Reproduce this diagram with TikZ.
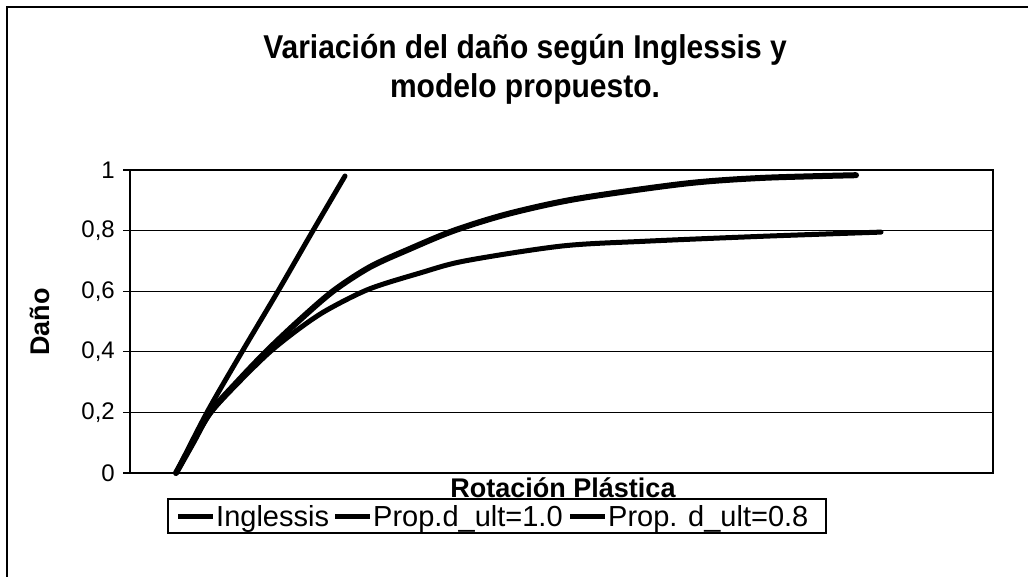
\documentclass[tikz,border=0pt]{standalone}
\usepackage{fontspec}
\setmainfont{Liberation Sans}
\begin{document}
\begin{tikzpicture}[x=1pt,y=-1pt,
  frameline/.style={line width=1.5pt},
  gridline/.style={line width=1.3pt},
  axisframe/.style={line width=2pt},
  curveA/.style={line width=5pt, line cap=round, line join=round},
  curveB/.style={line width=6pt, line cap=round, line join=round},
  curveC/.style={line width=5pt, line cap=round, line join=round},
  ticklbl/.style={anchor=east, inner sep=0pt, font=\fontsize{24}{24}\selectfont},
  titletxt/.style={anchor=base, inner sep=0pt, font=\bfseries\fontsize{30}{30}\selectfont},
  axtitle/.style={inner sep=0pt, font=\bfseries\fontsize{27}{27}\selectfont},
  legtxt/.style={anchor=base west, inner sep=0pt, font=\fontsize{29}{29}\selectfont},
  legline/.style={line width=5pt}]
\useasboundingbox (0,0) rectangle (1028,576);
\fill[white] (0,0) rectangle (1028,576);
% outer chart frame (cropped at right and bottom)
\draw[frameline] (7,600) -- (7,7) -- (1040,7);
% title
\node[titletxt] (title1) at (525,58) {\scalebox{1}[1.1]{Variación del daño según Inglessis y}};
\node[titletxt] (title2) at (525,97) {\scalebox{1}[1.1]{modelo propuesto.}};
% grid lines, ticks and labels
\foreach \v/\lab in {0/0,0.2/{0,2},0.4/{0,4},0.6/{0,6},0.8/{0,8},1/1}{
  \draw[gridline] (123,{473-303*\v}) -- (993,{473-303*\v});
  \node[ticklbl] at (115,{473-303*\v}) {\lab};
}
\draw[axisframe] (130,170) rectangle (993,473);
% axis titles
\node[axtitle, rotate=90] (ylab) at (40,322) {Daño};
\node[axtitle, anchor=base] (xlab) at (563,497) {Rotación Plástica};
% curves
\draw[curveA] plot[smooth, tension=0.5] coordinates {(176,473) (207,412.4) (242,351.8) (278,291.2) (313,230.6) (345,176)};
\draw[curveB] plot[smooth, tension=0.5] coordinates {(176,473) (193,442.7) (210,412.4) (237,382.1) (266,351.8) (298,321.5) (333,291.2) (370,267) (410,248.8) (454,230.6) (508,213.9) (577,198.8) (685,183.6) (762,177.9) (856,175.2)};
\draw[curveC] plot[smooth, tension=0.5] coordinates {(176,473) (193,442.7) (211,412.4) (239,382) (270,351.8) (300,328) (327,310) (369,289.1) (420,273) (465,260.9) (562,246) (646,241.2) (762,236.3) (881,232.1)};
% legend
\draw[line width=1.3pt] (168,499) rectangle (826,533);
\coordinate (l1a) at (178,516); \coordinate (l1b) at (213,516);
\coordinate (l2a) at (335,516); \coordinate (l2b) at (370,516);
\coordinate (l3a) at (570,516); \coordinate (l3b) at (605,516);
\draw[legline] (l1a) -- (l1b);
\draw[legline] (l2a) -- (l2b);
\draw[legline] (l3a) -- (l3b);
\node[legtxt] (leg1) at (216,526) {Inglessis};
\node[legtxt] (leg2) at (373,526) {Prop.d\_ult=1.0};
\node[legtxt] (leg3) at (608,526) {Prop. d\_ult=0.8};
\end{tikzpicture}
\end{document}
